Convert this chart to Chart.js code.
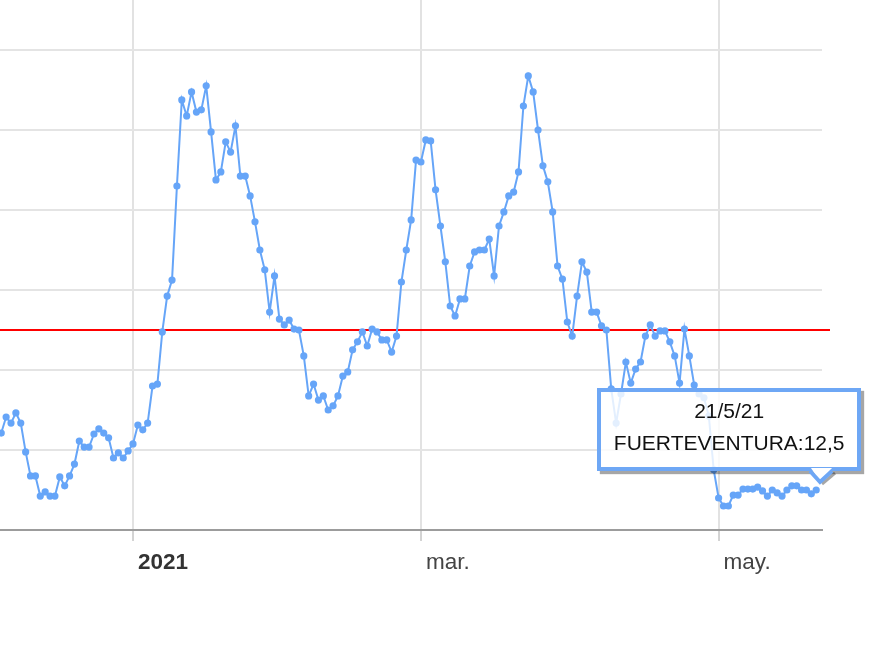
<!DOCTYPE html>
<html>
<head>
<meta charset="utf-8">
<script src="https://cdn.jsdelivr.net/npm/chart.js@4.4.1/dist/chart.umd.min.js"></script>
<style>
html, body { margin:0; padding:0; background:#fff; overflow:hidden; width:878px; height:646px; position:relative; }
#wrap { position:absolute; left:-60px; top:-30px; width:938px; height:676px; }
#tip { position:absolute; box-sizing:border-box; width:264px; height:83px; border:4px solid #6ea7f5;
  background:rgba(255,255,255,0.82); box-shadow:3px 3px 1px rgba(0,0,0,0.35);
  font-family:"Liberation Sans", Arial, sans-serif; font-size:21px; color:#111; text-align:center;
  padding-top:3px; line-height:32px; }
#tail { position:absolute; overflow:visible; }
</style>
</head>
<body>
<div id="wrap"><canvas id="c"></canvas></div>
<div id="tip"><div id="tipDate"></div><div id="tipVal"></div></div>
<svg id="tail" width="50" height="40" viewBox="0 0 50 40">
  <polyline points="26,24 39,13" fill="none" stroke="rgba(0,0,0,0.35)" stroke-width="3"/>
  <polygon points="15,8 24,22 36,8" fill="#fff"/>
  <polyline points="14,11 24,22 36,11" fill="none" stroke="#6ea7f5" stroke-width="4" stroke-linejoin="miter"/>
</svg>
<script>
// ---- data ----
const seriesName = 'FUERTEVENTURA';
const firstDate = [2020, 12, 5];          // date of first value (5 Dec 2020)
const firstDay = -27;                     // days from 1 Jan 2021 of first value
const values = [
  30.3, 35.3, 33.4, 36.6, 33.4, 24.4, 16.9, 16.9, 10.6, 11.9,
  10.6, 10.6, 16.6, 13.8, 16.9, 20.6, 27.8, 25.9, 25.9, 30.0,
  31.6, 30.3, 28.8, 22.5, 24.1, 22.5, 24.7, 26.9, 32.8, 31.3,
  33.4, 45.0, 45.6, 61.9, 73.1, 78.1, 107.5, 134.4, 129.4, 136.9,
  130.6, 131.3, 138.8, 124.4, 109.4, 111.9, 121.3, 118.1, 126.3, 110.6,
  110.6, 104.4, 96.3, 87.5, 81.3, 68.1, 79.4, 65.9, 64.1, 65.6,
  62.8, 62.5, 54.4, 41.9, 45.6, 40.6, 41.9, 37.5, 38.8, 41.9,
  48.1, 49.4, 56.3, 58.8, 61.9, 57.5, 62.8, 61.9, 59.4, 59.4,
  55.6, 60.6, 77.5, 87.5, 96.9, 115.6, 115.0, 121.9, 121.6, 106.3,
  95.0, 83.8, 70.0, 66.9, 72.2, 72.2, 82.5, 86.9, 87.5, 87.5,
  90.9, 79.4, 95.0, 99.4, 104.4, 105.6, 111.9, 132.5, 141.9, 136.9,
  125.0, 113.8, 108.8, 99.4, 82.5, 78.4, 65.0, 60.6, 73.1, 83.8,
  80.6, 68.1, 68.1, 63.8, 62.5, 44.1, 33.4, 42.5, 52.5, 45.9,
  50.3, 52.5, 60.6, 64.1, 60.6, 62.2, 62.2, 58.8, 54.4, 45.9,
  62.8, 54.4, 45.3, 42.5, 41.3, 35.6,
  18.8,
  10.0, 7.5, 7.5, 10.9, 10.9, 12.8, 12.8, 12.8, 13.4, 12.2,
  10.6, 12.5, 11.6, 10.6, 12.5, 13.8, 13.8, 12.5, 12.5, 11.3, 12.5
];
const thresholdValue = 62.5;
const tickDays = [0, 59, 120];
const tickLabels = ['2021', 'mar.', 'may.'];

// ---- layout ----
const OFFX = -60, OFFY = -30;
const JAN1_X = 133, PX_PER_DAY = 4.88, ZERO_Y = 530, PX_PER_UNIT = 3.2;
const lineColor = '#66a5f8';

const points = values.map((v, i) => ({ x: firstDay + i, y: v }));
const tline = [{ x: -50, y: thresholdValue }, { x: (830 - JAN1_X) / PX_PER_DAY, y: thresholdValue }];

function dateLabel(i) {
  const d = new Date(firstDate[0], firstDate[1] - 1, firstDate[2] + i);
  return d.getDate() + '/' + (d.getMonth() + 1) + '/' + String(d.getFullYear()).slice(2);
}

const tipPlugin = {
  id: 'tipPlugin',
  afterRender(chart) {
    const meta = chart.getDatasetMeta(0);
    const i = meta.data.length - 1;
    const el = meta.data[i];
    const px = el.x + OFFX, py = el.y + OFFY;
    const tip = document.getElementById('tip');
    tip.style.left = (px - 219) + 'px';
    tip.style.top = (py - 102) + 'px';
    document.getElementById('tipDate').textContent = dateLabel(i);
    document.getElementById('tipVal').textContent = seriesName + ':' + String(values[i]).replace('.', ',');
    const tail = document.getElementById('tail');
    tail.style.left = (px - 20) + 'px';
    tail.style.top = (py - 30) + 'px';
  }
};

const chart = new Chart(document.getElementById('c'), {
  type: 'line',
  data: {
    datasets: [
      { data: points, borderColor: lineColor, backgroundColor: lineColor, borderWidth: 2,
        pointRadius: 3.6, pointBackgroundColor: lineColor, pointBorderWidth: 0, tension: 0 },
      { data: tline, borderColor: '#ff0000', borderWidth: 2, pointRadius: 0, clip: false }
    ]
  },
  options: {
    responsive: true, maintainAspectRatio: false, animation: false, events: [],
    layout: { padding: { left: 0, right: 56, top: 0, bottom: 0 } },
    plugins: { legend: { display: false }, tooltip: { enabled: false } },
    scales: {
      x: {
        type: 'linear', min: -39.5, max: 140.9,
        afterBuildTicks: s => { s.ticks = tickDays.map(v => ({ value: v })); },
        afterFit: s => { s.height = 116; },
        grid: { color: '#e2e2e2', lineWidth: 2, tickLength: 11, tickColor: '#a8a8a8', tickWidth: 1 },
        border: { display: true, color: '#9c9c9c', width: 2 },
        ticks: {
          autoSkip: false, maxRotation: 0, align: 'start', labelOffset: 5, padding: 8,
          callback: v => tickLabels[tickDays.indexOf(v)],
          font: ctx => ({ family: '"Liberation Sans", Arial, sans-serif', size: 22.5, weight: ctx.index === 0 ? 'bold' : 'normal' }),
          color: ctx => ctx.index === 0 ? '#333' : '#444'
        }
      },
      y: {
        min: 0, max: 175,
        afterFit: s => { s.width = 0; },
        ticks: { display: false, stepSize: 25 },
        grid: { color: ctx => ctx.tick && ctx.tick.value === 0 ? 'rgba(0,0,0,0)' : '#e4e4e4', lineWidth: 2, drawTicks: false },
        border: { display: false }
      }
    }
  },
  plugins: [tipPlugin]
});

// fit the scales to the chart area so that 1 Jan sits at JAN1_X and value 0 at ZERO_Y
(function fit() {
  const ca = chart.chartArea;
  const xs = chart.options.scales.x, ys = chart.options.scales.y;
  xs.min = (ca.left + OFFX - JAN1_X) / PX_PER_DAY;
  xs.max = (ca.right + OFFX - JAN1_X) / PX_PER_DAY;
  ys.max = (ca.bottom - ca.top) / PX_PER_UNIT;
  document.getElementById('wrap').style.top = (OFFY + (ZERO_Y - (ca.bottom + OFFY))) + 'px';
  chart.update();
})();
</script>
</body>
</html>
